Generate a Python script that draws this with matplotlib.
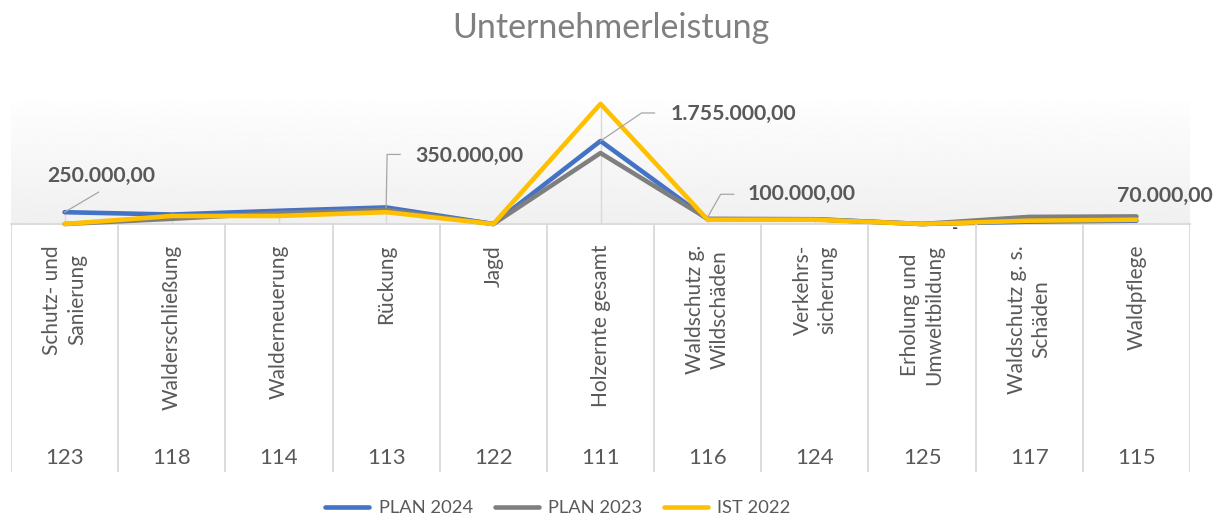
import numpy as np
import matplotlib
matplotlib.use("Agg")
import matplotlib.pyplot as plt
from matplotlib.lines import Line2D

plt.rcParams['font.family'] = ['Lato', 'DejaVu Sans']

# Kategorien (Bezeichnung + Kostenstelle)
kategorien = ["Schutz- und\nSanierung", "Walderschließung", "Walderneuerung", "Rückung", "Jagd",
              "Holzernte gesamt", "Waldschutz g.\nWildschäden", "Verkehrs-\nsicherung",
              "Erholung und\nUmweltbildung", "Waldschutz g. s.\nSchäden", "Waldpflege"]
kostenstellen = ["123", "118", "114", "113", "122", "111", "116", "124", "125", "117", "115"]

plan_2024 = [250000, 200000, 280000, 350000, 0, 1755000, 100000, 100000, 0, 50000, 70000]
plan_2023 = [0, 110000, 230000, 300000, 0, 1500000, 110000, 100000, 0, 150000, 160000]
ist_2022 = [0, 170000, 170000, 250000, 0, 2540000, 90000, 90000, 0, 70000, 90000]

serien = [("PLAN 2024", plan_2024, "#4472c4"),
          ("PLAN 2023", plan_2023, "#7f7f7f"),
          ("IST 2022", ist_2022, "#ffc000")]

W, H = 1222, 519
fig = plt.figure(figsize=(W / 100, H / 100), dpi=100)

def box(x0, y0, x1, y1):
    # Pixelkoordinaten (oben links) -> Figurenanteile
    return [x0 / W, 1 - y1 / H, (x1 - x0) / W, (y1 - y0) / H]

ax = fig.add_axes(box(11, 101, 1190, 224))
ax.set_xlim(-0.5, len(kategorien) - 0.5)
ax.set_ylim(0, 2600000)
ax.axis("off")

# Hintergrund mit Verlauf
verlauf = np.linspace(0.94, 0.995, 256).reshape(-1, 1)
ax.imshow(verlauf, cmap="gray", vmin=0, vmax=1, aspect="auto", origin="lower",
          extent=(0, 1, 0, 1), transform=ax.transAxes, zorder=0)

x = np.arange(len(kategorien))

# Lotlinien vom höchsten Wert zur Achse
oben = np.max([plan_2024, plan_2023, ist_2022], axis=0)
ax.vlines(x, 0, oben, color="#d9d9d9", lw=1, zorder=1)
ax.axhline(0, color="#d9d9d9", lw=1.3, zorder=1, clip_on=False)

for i, (name, werte, farbe) in enumerate(serien):
    ax.plot(x, werte, color=farbe, lw=3.3, solid_joinstyle="round", solid_capstyle="round",
            label=name, zorder=3 + i, clip_on=False)

def de_format(v):
    s = f"{v:,.2f}"
    return s.replace(",", "X").replace(".", ",").replace("X", ".")

# Datenbeschriftungen PLAN 2024 mit Führungslinien (Versatz in Pixeln)
beschriftung = {0: ((37, 36), [(0, 0), (34, 20)]),
                3: ((83, 51), [(0, 0), (1, 53), (14, 53)]),
                5: ((133, 27), [(0, 0), (41, 28), (54, 28)]),
                6: ((94, 25), [(1, 4), (13, 25), (26, 25)]),
                10: ((28, 25), None)}

fig.canvas.draw()
for idx, (off, leader) in beschriftung.items():
    ax.annotate(de_format(plan_2024[idx]), (x[idx], plan_2024[idx]), xytext=off,
                textcoords="offset pixels", ha="center", va="center",
                fontsize=15.3, fontweight="bold", color="#595959", zorder=10,
                annotation_clip=False)
    if leader:
        px, py = ax.transData.transform((x[idx], plan_2024[idx]))
        xs = [px + dx for dx, dy in leader]
        ys = [py + dy for dx, dy in leader]
        fig.add_artist(Line2D(xs, ys, transform=None, color="#a6a6a6", lw=0.9, zorder=9))

# Nullwert Erholung und Umweltbildung
ax.annotate("-", (x[8], plan_2024[8]), xytext=(33, -4), textcoords="offset pixels",
            ha="center", va="center", fontsize=12, fontweight="bold", color="#404040",
            annotation_clip=False)

# Kategorienbereich unter der Achse
ax2 = fig.add_axes(box(11, 224, 1190, 472))
ax2.set_xlim(-0.5, len(kategorien) - 0.5)
ax2.set_ylim(0, 1)
ax2.axis("off")
ax2.vlines(np.arange(len(kategorien) + 1) - 0.5, 0, 1, color="#d9d9d9", lw=1.3)
for i, (kat, ks) in enumerate(zip(kategorien, kostenstellen)):
    ax2.text(i, 1 - 21 / 248, kat, rotation=90, ha="center", va="top", multialignment="center",
             fontsize=15, color="#595959", linespacing=1.3)
    ax2.text(i, 14 / 248, ks, ha="center", va="center", fontsize=16, color="#595959")

fig.text(611 / W, 1 - 28 / H, "Unternehmerleistung", ha="center", va="center",
         fontsize=24.5, color="#808080")

fig.legend(loc="center", bbox_to_anchor=(558 / W, 1 - 508 / H), ncol=3, frameon=False,
           fontsize=13.2, labelcolor="#595959", handlelength=2.4, handletextpad=0.5,
           columnspacing=1.2)

fig.savefig("out.png", dpi=100)
